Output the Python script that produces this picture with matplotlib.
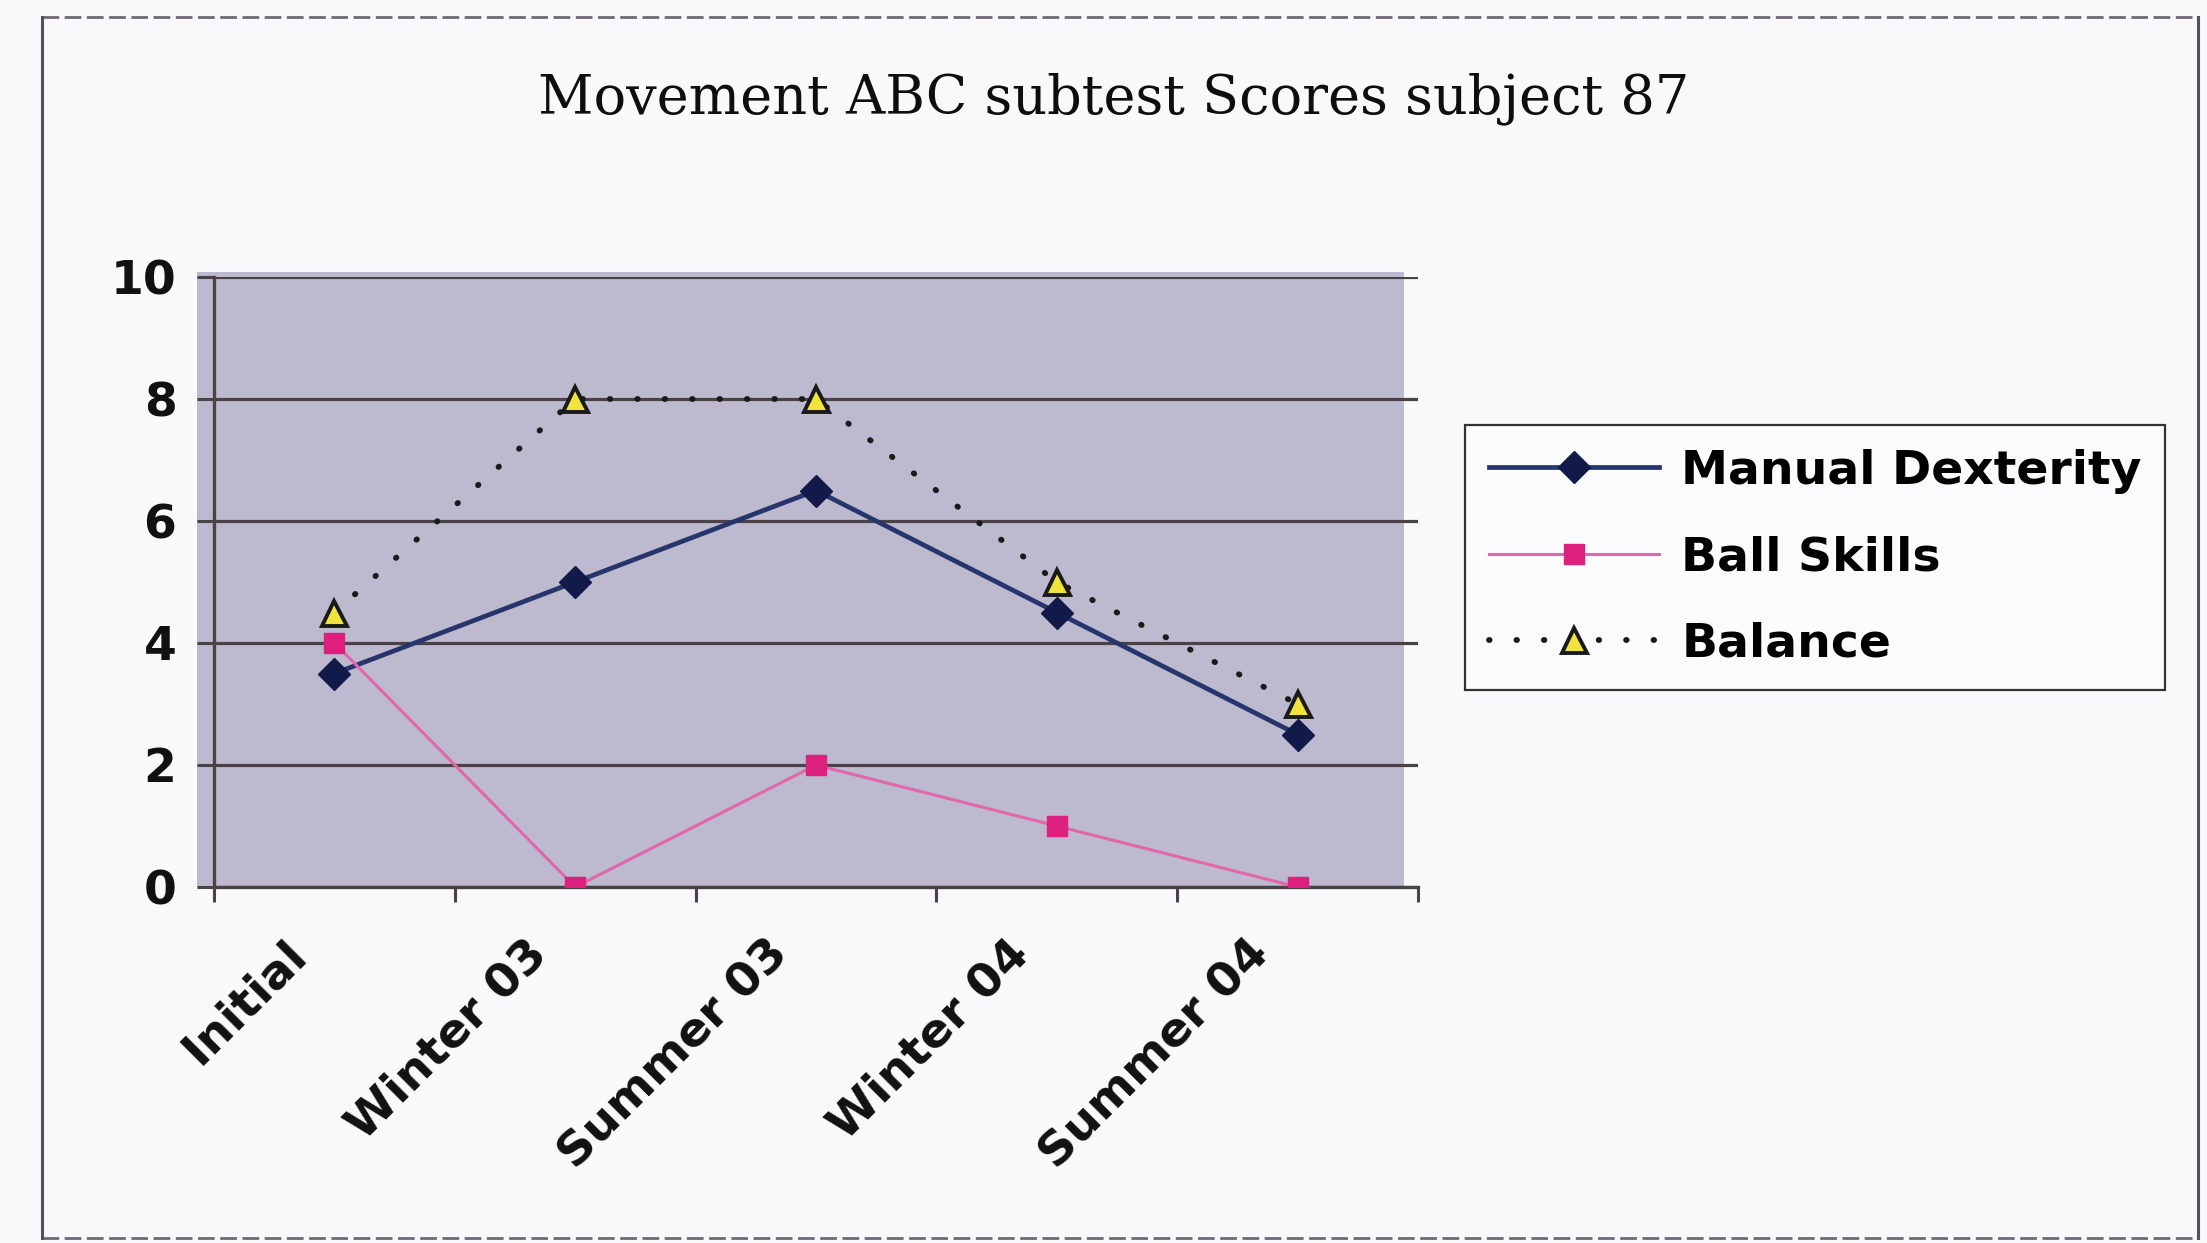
import matplotlib
matplotlib.use("Agg")
import matplotlib.pyplot as plt
from matplotlib.patches import Rectangle
from matplotlib.lines import Line2D

# Movement ABC subtest scores for subject 87
categories = ["Initial", "Winter 03", "Summer 03", "Winter 04", "Summer 04"]
manual_dexterity = [3.5, 5, 6.5, 4.5, 2.5]
ball_skills = [4, 0, 2, 1, 0]
balance = [4.5, 8, 8, 5, 3]
y_ticks = [0, 2, 4, 6, 8, 10]

W, H, DPI = 2207, 1243, 100
fig = plt.figure(figsize=(W / DPI, H / DPI), dpi=DPI)
fig.patch.set_facecolor("#f9f9fc")


def fx(px):
    return px / W


def fy(py):
    return 1 - py / H


SANS = ["DejaVu Sans"]
GRID = "#4b4247"
ax_left, ax_right, ax_top, ax_bottom = 214, 1418, 277, 887
ax = fig.add_axes([fx(ax_left), fy(ax_bottom),
                   (ax_right - ax_left) / W, (ax_bottom - ax_top) / H])
ax.set_facecolor("none")

# grey plot area, reaching a little past the value axis on the left
ax.add_patch(Rectangle((-0.014, 0), 1.002, 1.008, transform=ax.transAxes,
                       facecolor="#bdbacf", edgecolor="none", zorder=0,
                       clip_on=False))

x = list(range(len(categories)))
ax.plot(x, manual_dexterity, color="#26356c", lw=3.4, marker="D",
        ms=16, mfc="#111a48", mec="#111a48", label="Manual Dexterity", zorder=4)
ax.plot(x, ball_skills, color="#e266ab", lw=2.2, marker="s",
        ms=15, mfc="#dd1f7d", mec="#dd1f7d", label="Ball Skills", zorder=4)
ax.plot(x, balance, color="#1a1a1a", lw=4.2, ls=(0, (0.1, 4.6)),
        dash_capstyle="round", marker="^", ms=18, mfc="#f0e43c",
        mec="#1a1a1a", mew=2.8, label="Balance", zorder=5)

ax.set_xlim(-0.5, len(categories) - 0.5)
ax.set_ylim(0, 10)
ax.set_yticks(y_ticks)
ax.set_yticklabels([str(v) for v in y_ticks], fontsize=34,
                   fontweight="bold", family=SANS, color="#111111")
ax.yaxis.grid(True, color=GRID, lw=2.3, zorder=1)
ax.set_axisbelow(True)

# category labels hang slightly left of each category centre
label_offset = 0.21
ax.set_xticks([i - label_offset for i in x])
ax.set_xticks([i - 0.5 for i in range(len(categories) + 1)], minor=True)
ax.set_xticklabels(categories, rotation=45, ha="right", va="top",
                   rotation_mode="anchor", fontsize=34, fontweight="bold",
                   family=SANS, color="#111111")

ax.tick_params(axis="x", which="major", length=0, pad=32)
ax.tick_params(axis="x", which="minor", length=11, width=2.2,
               color=GRID, direction="out")
ax.tick_params(axis="y", length=12, width=2.2, color=GRID,
               direction="out", pad=15)

for side in ("top", "right"):
    ax.spines[side].set_visible(False)
for side in ("left", "bottom"):
    ax.spines[side].set_color(GRID)
    ax.spines[side].set_linewidth(2.4)

leg = fig.legend(loc="upper left", bbox_to_anchor=(fx(1465), fy(425)),
                 prop={"family": SANS, "weight": "bold", "size": 34},
                 frameon=True, fancybox=False, framealpha=1,
                 facecolor="#fbfbfd", edgecolor="#333333",
                 handlelength=3.6, handletextpad=0.48, labelspacing=0.88,
                 borderpad=0.5, borderaxespad=0, numpoints=1)
leg.get_frame().set_linewidth(1.6)

fig.text(fx(1114), fy(113), "Movement ABC subtest Scores subject 87",
         ha="center", va="baseline", fontsize=39, family=["DejaVu Serif"],
         color="#0e0e0e")

# chart border
border = "#56505c"
fig.add_artist(Line2D([fx(42), fx(42)], [fy(17), fy(1238)],
                      transform=fig.transFigure, color=border, lw=2.2))
fig.add_artist(Line2D([fx(2198), fx(2198)], [fy(17), fy(1238)],
                      transform=fig.transFigure, color=border, lw=2.2))
fig.add_artist(Line2D([fx(42), fx(2198)], [fy(17), fy(17)],
                      transform=fig.transFigure, color=border, lw=2.0,
                      ls=(0, (6, 2)), alpha=0.85))
fig.add_artist(Line2D([fx(42), fx(2198)], [fy(1238), fy(1238)],
                      transform=fig.transFigure, color=border, lw=2.0,
                      ls=(0, (6, 2)), alpha=0.85))

fig.savefig("out.png", dpi=DPI, facecolor=fig.get_facecolor())
